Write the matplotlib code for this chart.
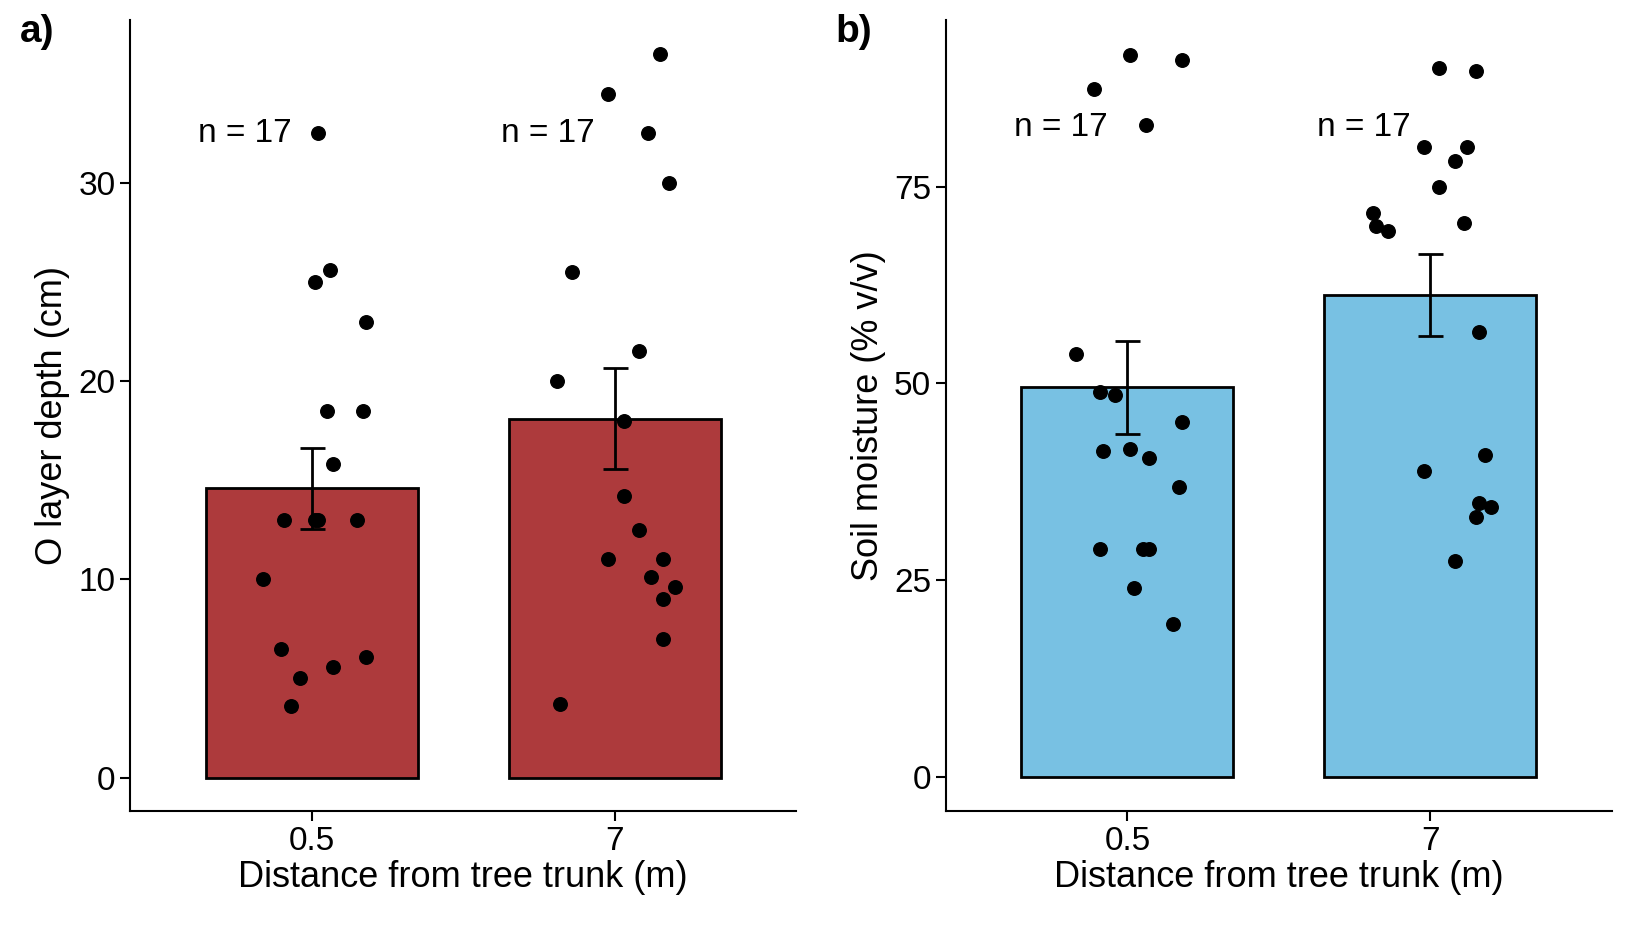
import numpy as np
import matplotlib.pyplot as plt

plt.rcParams['font.family'] = ['Liberation Sans', 'DejaVu Sans']

groups = ['0.5', '7']

# panel a: O layer depth (cm)
depth_05_x = [0.02, 0.01, 0.06, 0.18, 0.05, 0.17, 0.07, -0.09, 0.02, 0.15, -0.16, -0.10, -0.04, 0.07, 0.18, -0.07, 0.01]
depth_05_y = [32.5, 25.0, 25.6, 23.0, 18.5, 18.5, 15.8, 13.0, 13.0, 13.0, 10.0, 6.5, 5.0, 5.6, 6.1, 3.6, 13.0]
depth_7_x = [0.15, -0.02, 0.11, 0.18, -0.14, 0.08, -0.19, 0.03, 0.03, 0.08, -0.02, 0.16, 0.12, 0.20, 0.16, 0.16, -0.18]
depth_7_y = [36.5, 34.5, 32.5, 30.0, 25.5, 21.5, 20.0, 18.0, 14.2, 12.5, 11.0, 11.0, 10.1, 9.6, 9.0, 7.0, 3.7]
depth_mean = [14.6, 18.1]
depth_se = [2.05, 2.55]

# panel b: soil moisture (% v/v)
moist_05_x = [-0.11, 0.01, 0.18, 0.06, -0.17, -0.09, -0.04, 0.18, -0.08, 0.01, 0.07, 0.17, -0.09, 0.05, 0.07, 0.02, 0.15]
moist_05_y = [87.4, 91.7, 91.1, 82.8, 53.7, 48.9, 48.6, 45.1, 41.4, 41.7, 40.5, 36.8, 29.0, 29.0, 29.0, 24.0, 19.5]
moist_7_x = [0.03, 0.15, -0.02, 0.12, 0.08, 0.03, -0.19, -0.18, -0.14, 0.11, 0.16, -0.02, 0.18, 0.16, 0.20, 0.15, 0.08]
moist_7_y = [90.0, 89.7, 80.0, 80.0, 78.2, 75.0, 71.6, 70.0, 69.3, 70.4, 56.6, 38.9, 40.9, 34.8, 34.3, 33.1, 27.5]
moist_mean = [49.5, 61.2]
moist_se = [5.9, 5.2]

fig = plt.figure(figsize=(16.25, 9.25), dpi=100)
axa = fig.add_axes([0.080, 0.123, 0.410, 0.855])
axb = fig.add_axes([0.582, 0.123, 0.410, 0.855])

panels = [
    (axa, '#AD3A3C', depth_mean, depth_se, [(depth_05_x, depth_05_y), (depth_7_x, depth_7_y)],
     'O layer depth (cm)', [0, 10, 20, 30], (-1.7, 38.2), 32.5, 'a)'),
    (axb, '#78C1E3', moist_mean, moist_se, [(moist_05_x, moist_05_y), (moist_7_x, moist_7_y)],
     'Soil moisture (% v/v)', [0, 25, 50, 75], (-4.3, 96.1), 82.5, 'b)'),
]

for ax, col, mean, se, pts, ylab, yt, ylim, ny, tag in panels:
    x = np.arange(len(groups))
    ax.bar(x, mean, width=0.7, color=col, edgecolor='black', linewidth=2, zorder=1)
    ax.errorbar(x, mean, yerr=se, fmt='none', ecolor='black', elinewidth=2,
                capsize=9, capthick=2, zorder=2)
    for i, (px, py) in enumerate(pts):
        ax.scatter(i + np.array(px), py, s=95, color='black', zorder=3)
        ax.text(i - 0.22, ny, 'n = %d' % len(py), fontsize=24, ha='center', va='center', zorder=4)
    ax.set_xlim(-0.6, 1.6)
    ax.set_ylim(*ylim)
    ax.set_xticks(x)
    ax.set_xticklabels(groups)
    ax.set_yticks(yt)
    ax.tick_params(labelsize=24, width=1.5, length=7, colors='black')
    ax.set_xlabel('Distance from tree trunk (m)', fontsize=26, labelpad=2)
    ax.set_ylabel(ylab, fontsize=26, labelpad=6)
    for s in ['top', 'right']:
        ax.spines[s].set_visible(False)
    for s in ['left', 'bottom']:
        ax.spines[s].set_linewidth(1.5)
    ax.text(-0.165, 0.985, tag, transform=ax.transAxes, fontsize=28, fontweight='bold',
            ha='left', va='center')

fig.savefig('out.png')
